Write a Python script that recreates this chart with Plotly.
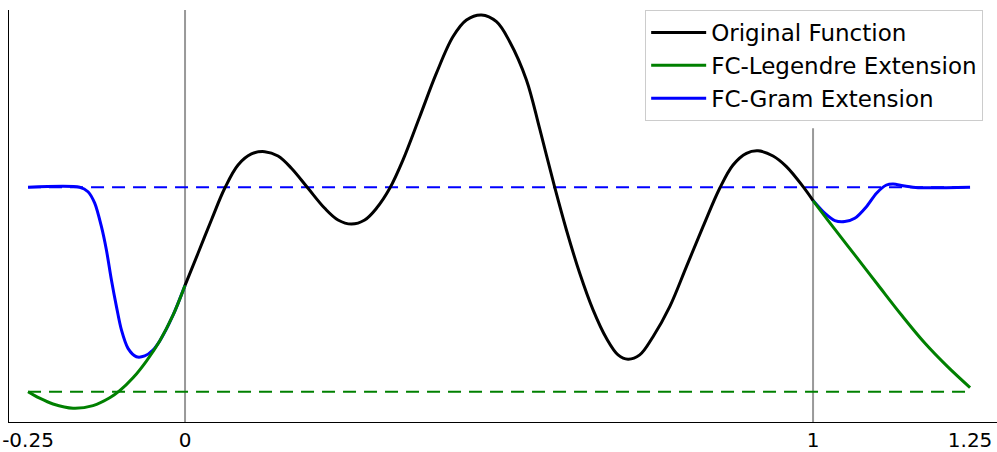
import plotly.graph_objects as go

# valores
x_orig = [0.0, 0.0207, 0.0420, 0.0632, 0.0844, 0.1057, 0.1269, 0.1481, 0.1694,
          0.1959, 0.2225, 0.2436, 0.2650, 0.2861, 0.3048, 0.3260, 0.3471, 0.3737,
          0.4003, 0.4268, 0.4481, 0.4720, 0.4959, 0.5170, 0.5436, 0.5648, 0.5887,
          0.6073, 0.6285, 0.6497, 0.6710, 0.6895, 0.7054, 0.7240, 0.7452, 0.7718,
          0.7984, 0.8248, 0.8514, 0.8726, 0.8939, 0.9124, 0.9363, 0.9576, 0.9841, 1.0]
y_orig = [0.520, 0.677, 0.840, 0.995, 1.109, 1.163, 1.174, 1.153, 1.093,
          0.995, 0.897, 0.840, 0.820, 0.840, 0.897, 0.995, 1.134, 1.345,
          1.558, 1.737, 1.818, 1.843, 1.810, 1.712, 1.525, 1.285, 0.999,
          0.791, 0.579, 0.400, 0.261, 0.180, 0.159, 0.180, 0.269, 0.416,
          0.612, 0.807, 0.995, 1.109, 1.166, 1.178, 1.153, 1.101, 1.003, 0.935]

x_leg_izq = [-0.25, -0.2314, -0.2102, -0.1783, -0.1465, -0.1199, -0.1040, -0.0828,
             -0.0615, -0.0403, -0.0191, 0.0]
y_leg_izq = [0.0, -0.032, -0.060, -0.081, -0.068, -0.030, 0.005, 0.068,
             0.150, 0.248, 0.374, 0.520]
x_leg_der = [1.0, 1.0293, 1.0664, 1.1035, 1.1408, 1.1779, 1.2150, 1.25]
y_leg_der = [0.935, 0.816, 0.669, 0.522, 0.375, 0.238, 0.120, 0.020]

x_gram_izq = [-0.25, -0.1677, -0.1545, -0.1438, -0.1331, -0.1252, -0.1172, -0.1092,
              -0.1013, -0.0908, -0.0774, -0.0642, -0.0510, -0.0403, -0.0191, 0.0]
y_gram_izq = [1.0, 1.0, 0.978, 0.922, 0.807, 0.693, 0.546, 0.416,
              0.302, 0.212, 0.171, 0.175, 0.204, 0.248, 0.374, 0.520]
x_gram_der = [1.0, 1.0186, 1.0346, 1.0505, 1.0664, 1.0850, 1.1010, 1.1169,
              1.1274, 1.1460, 1.1672, 1.25]
y_gram_der = [0.935, 0.873, 0.837, 0.832, 0.848, 0.905, 0.971, 1.011,
              1.016, 1.006, 0.998, 1.0]

nivel_gram = 1.0
nivel_leg = 0.0
x_lim = [-0.25, 1.25]
ticks = [-0.25, 0, 1, 1.25]
tick_text = ['-0.25', '0', '1', '1.25']

fig = go.Figure()

# lineas discontinuas de referencia
fig.add_trace(go.Scatter(x=x_lim, y=[nivel_gram, nivel_gram], mode='lines',
                         line=dict(color='blue', width=2, dash='13px,8px'),
                         showlegend=False, hoverinfo='skip'))
fig.add_trace(go.Scatter(x=x_lim, y=[nivel_leg, nivel_leg], mode='lines',
                         line=dict(color='green', width=2, dash='13px,8px'),
                         showlegend=False, hoverinfo='skip'))

# extension FC-Gram (debajo de la verde)
fig.add_trace(go.Scatter(x=x_gram_izq, y=y_gram_izq, mode='lines', name='FC-Gram Extension',
                         line=dict(color='blue', width=3, shape='spline', smoothing=0.8),
                         legendrank=3))
fig.add_trace(go.Scatter(x=x_gram_der, y=y_gram_der, mode='lines', showlegend=False,
                         line=dict(color='blue', width=3, shape='spline', smoothing=0.8)))

# extension FC-Legendre
fig.add_trace(go.Scatter(x=x_leg_izq, y=y_leg_izq, mode='lines', name='FC-Legendre Extension',
                         line=dict(color='green', width=3, shape='spline'),
                         legendrank=2))
fig.add_trace(go.Scatter(x=x_leg_der, y=y_leg_der, mode='lines', showlegend=False,
                         line=dict(color='green', width=3, shape='spline')))

# funcion original
fig.add_trace(go.Scatter(x=x_orig, y=y_orig, mode='lines', name='Original Function',
                         line=dict(color='black', width=3, shape='spline'),
                         legendrank=1))

# lineas verticales en 0 y 1
fig.add_shape(type='line', x0=0, x1=0, y0=-0.2, y1=1.9, xref='x', yref='y',
              line=dict(color='#999999', width=2), layer='below')
fig.add_shape(type='line', x0=1, x1=1, y0=-0.2, y1=1.289, xref='x', yref='y',
              line=dict(color='#999999', width=2), layer='below')

fig.update_layout(
    width=997,
    height=452,
    margin=dict(l=9, r=0, t=10, b=30),
    plot_bgcolor='white',
    paper_bgcolor='white',
    font=dict(family='DejaVu Sans', color='black'),
    legend=dict(
        x=0.986, y=1.0, xanchor='right', yanchor='top',
        bgcolor='rgba(255,255,255,0.9)', bordercolor='#cccccc', borderwidth=1,
        font=dict(size=23, family='DejaVu Sans'),
        itemwidth=55, traceorder='normal',
    ),
)

fig.update_xaxes(
    range=[-0.2803, 1.2929], showgrid=False, zeroline=False,
    showline=True, linecolor='black', linewidth=1.3, automargin=False,
    tickmode='array', tickvals=ticks, ticktext=tick_text, ticks='',
    tickfont=dict(size=20, family='DejaVu Sans'),
)
fig.update_yaxes(
    range=[-0.1483, 1.867], showgrid=False, zeroline=False,
    showline=True, linecolor='black', linewidth=1.3, automargin=False,
    showticklabels=False, ticks='',
)

# quitar el margen del body para que la figura quede en (0, 0)
fig.write_html('out.html', config={'displayModeBar': False},
               post_script="document.body.style.margin='0';")
